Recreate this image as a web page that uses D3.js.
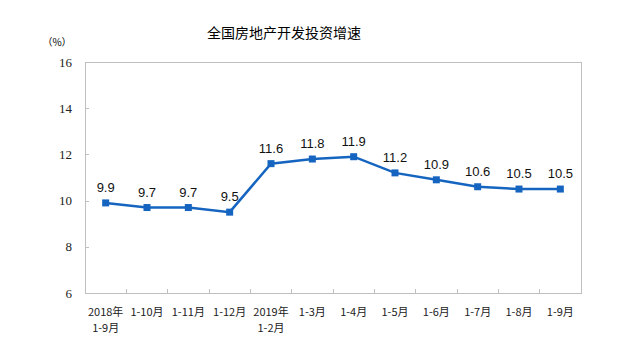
<!DOCTYPE html>
<html>
<head>
<meta charset="utf-8">
<script src="https://d3js.org/d3.v7.min.js"></script>
<style>
  body { margin: 0; background: #fff; }
  .axis path, .axis line { stroke: #bfbfbf; shape-rendering: crispEdges; }
</style>
</head>
<body>
<div id="chart"></div>
<script>
// categories (two-line labels) and values
var periods = ["2018年\n1-9月", "1-10月", "1-11月", "1-12月", "2019年\n1-2月", "1-3月",
               "1-4月", "1-5月", "1-6月", "1-7月", "1-8月", "1-9月"];
var growth = [9.9, 9.7, 9.7, 9.5, 11.6, 11.8, 11.9, 11.2, 10.9, 10.6, 10.5, 10.5];
var yTicks = [6, 8, 10, 12, 14, 16];

var W = 618, H = 352;
var margin = {top: 62, right: 37, bottom: 59, left: 85};
var width = W - margin.left - margin.right,
    height = H - margin.top - margin.bottom;

var svg = d3.select("#chart").append("svg")
    .attr("width", W).attr("height", H);

svg.append("text")
    .attr("x", 284).attr("y", 38)
    .attr("text-anchor", "middle")
    .style("font-family", "'Noto Sans CJK SC', sans-serif")
    .style("font-size", "14px")
    .text("全国房地产开发投资增速");

svg.append("text")
    .attr("x", 57).attr("y", 46)
    .attr("text-anchor", "middle")
    .style("font-family", "'Noto Sans CJK SC', sans-serif")
    .style("font-size", "10px")
    .text("（%）");

var g = svg.append("g")
    .attr("transform", "translate(" + margin.left + "," + margin.top + ")");

var x = d3.scaleBand().domain(d3.range(periods.length)).range([0, width]);
var y = d3.scaleLinear().domain([6, 16]).range([height, 0]);

// plot frame
g.append("rect")
    .attr("width", width).attr("height", height)
    .attr("fill", "none").attr("stroke", "#bfbfbf")
    .style("shape-rendering", "crispEdges");

// y axis, ticks pointing inward
var yAx = g.append("g").attr("class", "axis")
    .call(d3.axisLeft(y).tickValues(yTicks).tickSizeInner(-4).tickSizeOuter(0).tickPadding(13));
yAx.selectAll("text")
    .style("font-family", "'Liberation Serif', 'DejaVu Serif', serif")
    .style("font-size", "13px")
    .attr("fill", "#222");

// x axis: tick marks at band boundaries
var xAx = g.append("g").attr("class", "axis")
    .attr("transform", "translate(0," + height + ")");
xAx.append("path").attr("d", "M0,0H" + width);
xAx.selectAll("line.sep")
    .data(d3.range(1, periods.length))
    .enter().append("line")
    .attr("x1", function(d) { return x(d); })
    .attr("x2", function(d) { return x(d); })
    .attr("y1", 0).attr("y2", -4);

var labels = xAx.selectAll("text.cat")
    .data(periods)
    .enter().append("text")
    .attr("class", "cat")
    .attr("text-anchor", "middle")
    .attr("x", function(d, i) { return x(i) + x.bandwidth() / 2; })
    .attr("y", 23)
    .style("font-family", "'Noto Sans CJK SC', sans-serif")
    .style("font-size", "11px")
    .attr("fill", "#222");
labels.each(function(d) {
  var t = d3.select(this);
  d.split("\n").forEach(function(s, k) {
    t.append("tspan")
      .attr("x", t.attr("x"))
      .attr("dy", k === 0 ? 0 : 16)
      .text(s);
  });
});

// line
var line = d3.line()
    .x(function(d, i) { return x(i) + x.bandwidth() / 2; })
    .y(function(d) { return y(d); });

g.append("path")
    .datum(growth)
    .attr("fill", "none")
    .attr("stroke", "#1565c0")
    .attr("stroke-width", 2.5)
    .attr("d", line);

// square markers
g.selectAll("rect.pt")
    .data(growth)
    .enter().append("rect")
    .attr("class", "pt")
    .attr("x", function(d, i) { return x(i) + x.bandwidth() / 2 - 3.5; })
    .attr("y", function(d) { return y(d) - 3.5; })
    .attr("width", 7).attr("height", 7)
    .attr("fill", "#1565c0");

// value labels
g.selectAll("text.val")
    .data(growth)
    .enter().append("text")
    .attr("class", "val")
    .attr("text-anchor", "middle")
    .attr("x", function(d, i) { return x(i) + x.bandwidth() / 2; })
    .attr("y", function(d) { return y(d) - 11; })
    .style("font-family", "'Liberation Sans', Arial, sans-serif")
    .style("font-size", "13px")
    .attr("fill", "#111")
    .text(function(d) { return d.toFixed(1); });
</script>
</body>
</html>
